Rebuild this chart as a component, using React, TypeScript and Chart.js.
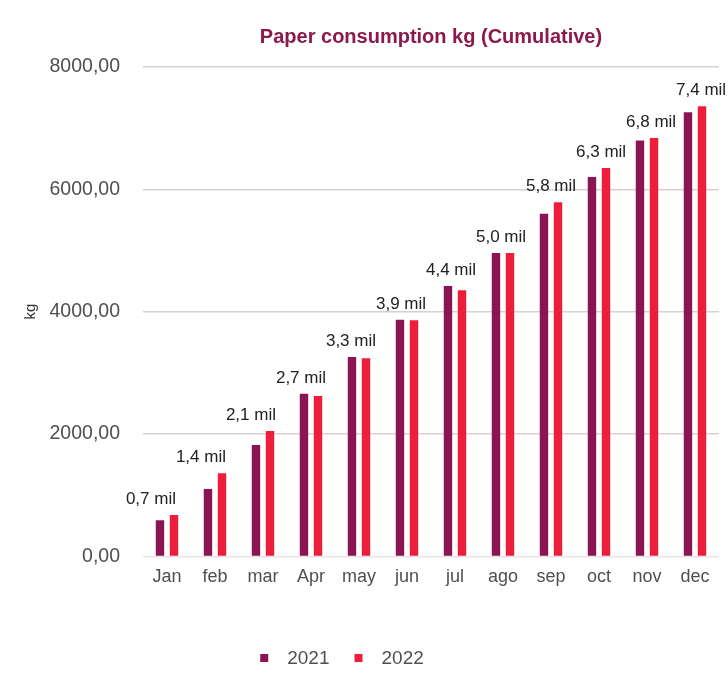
import React, { useEffect, useRef } from "react";
import { Chart, registerables } from "chart.js";

Chart.register(...registerables);

const categories = ["Jan", "feb", "mar", "Apr", "may", "jun", "jul", "ago", "sep", "oct", "nov", "dec"];
const values2021 = [590, 1100, 1820, 2660, 3260, 3870, 4420, 4960, 5600, 6200, 6800, 7260];
const values2022 = [675, 1360, 2050, 2620, 3240, 3860, 4350, 4960, 5790, 6350, 6840, 7360];
const totalLabels = ["0,7 mil", "1,4 mil", "2,1 mil", "2,7 mil", "3,3 mil", "3,9 mil", "4,4 mil", "5,0 mil", "5,8 mil", "6,3 mil", "6,8 mil", "7,4 mil"];
const seriesNames = ["2021", "2022"];
const titleText = "Paper consumption kg (Cumulative)";
const yTitle = "kg";
const yMax = 8000;
const yStep = 2000;

const COLORS = ["#8b1452", "#ee1d3b"];
const FONT = "'Liberation Sans', Arial, Helvetica, sans-serif";

const decorPlugin = {
  id: "decor",
  afterDatasetsDraw(chart: any) {
    const { ctx, chartArea } = chart;
    const m0 = chart.getDatasetMeta(0);
    const m1 = chart.getDatasetMeta(1);
    const cx = (chartArea.left + chartArea.right) / 2;
    ctx.save();
    ctx.fillStyle = "#222222";
    ctx.font = `17px ${FONT}`;
    ctx.textAlign = "center";
    ctx.textBaseline = "alphabetic";
    totalLabels.forEach((lab, i) => {
      const a = m0.data[i];
      const b = m1.data[i];
      if (!a || !b) return;
      const gx = (a.x + b.x) / 2;
      const top = Math.min(a.y, b.y);
      const x = cx + (gx - cx) * 1.042 - 5;
      ctx.fillText(lab, x, top - 11);
    });
    ctx.restore();
  },
  afterDraw(chart: any) {
    const { ctx, chartArea, width } = chart;
    ctx.save();
    // title
    ctx.fillStyle = "#8b1a4b";
    ctx.font = `bold 20px ${FONT}`;
    ctx.textAlign = "center";
    ctx.textBaseline = "middle";
    ctx.fillText(titleText, (chartArea.left + chartArea.right) / 2, 37);
    // legend
    ctx.font = `19px ${FONT}`;
    const box = 8;
    const gapBox = 19;
    const gapItem = 25;
    const widths = seriesNames.map((n) => ctx.measureText(n).width);
    const total = widths.reduce((s, w) => s + box + gapBox + w, 0) + gapItem * (seriesNames.length - 1);
    let x = width / 2 - 22 - total / 2;
    const y = 658;
    ctx.textAlign = "left";
    seriesNames.forEach((n, i) => {
      ctx.fillStyle = COLORS[i];
      ctx.fillRect(x, y - box / 2, box, box);
      x += box + gapBox;
      ctx.fillStyle = "#4f4f4f";
      ctx.fillText(n, x, y + 1);
      x += widths[i] + gapItem;
    });
    ctx.restore();
  },
};

export default function App() {
  const ref = useRef<HTMLCanvasElement | null>(null);
  useEffect(() => {
    if (!ref.current) return;
    const chart = new Chart(ref.current, {
      type: "bar",
      data: {
        labels: categories,
        datasets: [
          { label: seriesNames[0], data: values2021, backgroundColor: COLORS[0], categoryPercentage: 0.585, barPercentage: 0.6 },
          { label: seriesNames[1], data: values2022, backgroundColor: COLORS[1], categoryPercentage: 0.585, barPercentage: 0.6 },
        ],
      },
      options: {
        animation: false,
        responsive: false,
        maintainAspectRatio: false,
        layout: { padding: { top: 67, right: 9, bottom: 75, left: 0 } },
        plugins: {
          legend: { display: false },
          title: { display: false },
          tooltip: { enabled: false },
        },
        scales: {
          x: {
            grid: { display: false, drawTicks: false },
            border: { display: false },
            ticks: { color: "#4f4f4f", font: { family: FONT, size: 18 }, padding: 10 },
          },
          y: {
            min: 0,
            max: yMax,
            afterFit: (s: any) => {
              s.width = 143;
            },
            grid: {
              drawTicks: false,
              lineWidth: 1.5,
              color: (c: any) => (c.tick && c.tick.value === 0 ? "#ece4e4" : "#d8d0cd"),
            },
            border: { display: false },
            title: {
              display: true,
              text: yTitle,
              color: "#333333",
              font: { family: FONT, size: 15 },
              padding: { top: 22, bottom: 0 },
            },
            ticks: {
              stepSize: yStep,
              padding: 23,
              color: "#4f4f4f",
              font: { family: FONT, size: 19.5 },
              callback: (v: any) => Number(v).toFixed(2).replace(".", ","),
            },
          },
        },
      },
      plugins: [decorPlugin],
    });
    return () => chart.destroy();
  }, []);
  return (
    <div style={{ position: "fixed", left: 0, top: 0, width: 728, height: 673, background: "#ffffff" }}>
      <canvas ref={ref} width={728} height={673} style={{ display: "block", width: 728, height: 673 }} />
    </div>
  );
}
